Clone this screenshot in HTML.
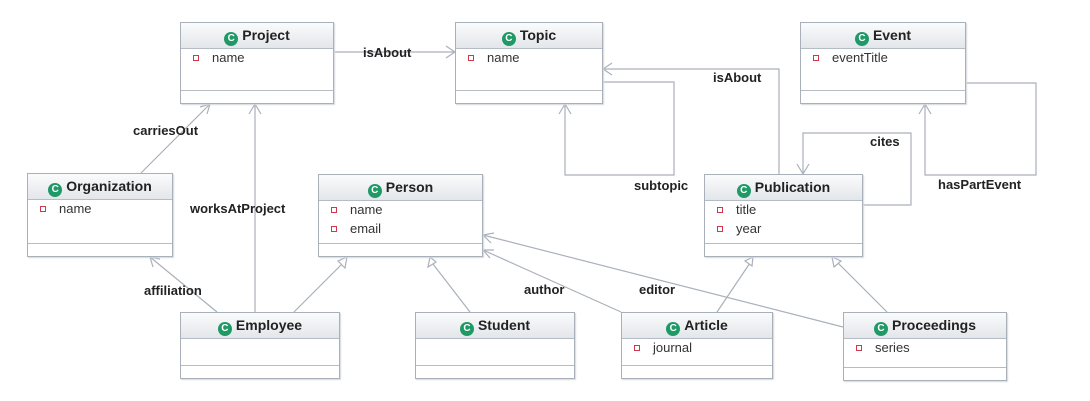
<!DOCTYPE html>
<html><head><meta charset="utf-8"><style>
body{margin:0;width:1090px;height:401px;background:#fff;position:relative;overflow:hidden;font-family:"Liberation Sans","DejaVu Sans",sans-serif;}
.box{position:absolute;border:1px solid #a9b0ba;background:#fff;box-shadow:1px 1px 1px #d4d8dd;box-sizing:border-box;}
.hd{height:25px;border-bottom:1px solid #b6bcc4;background:linear-gradient(#fafbfc,#e3e6ea);text-align:center;font-weight:bold;font-size:14px;line-height:24px;color:#222;}
.c{display:inline-block;width:14px;height:14px;border-radius:50%;background:#1f9a66;color:#fff;font-size:10px;line-height:14px;text-align:center;vertical-align:-1px;margin-right:4px;font-weight:bold;}
.at{font-size:13px;color:#333;padding-left:31px;position:relative;height:19px;line-height:18px;}
.at:before{content:"";position:absolute;left:12px;top:6px;width:6px;height:6px;box-sizing:border-box;border:1px solid #d0384c;}
.dv{position:absolute;left:0;right:0;border-top:1px solid #b6bcc4;}
.lb{position:absolute;font-weight:bold;font-size:13px;color:#222;white-space:nowrap;}
svg{position:absolute;left:0;top:0;}
</style></head><body>
<svg width="1090" height="401" fill="none" stroke="#aab1bb" stroke-width="1.2">
<path d="M333 52H455M446 46L455 52L446 58"/>
<path d="M141 173L210 104M200 107L210 104L207 114"/>
<path d="M255 313V104M249 114L255 104L261 114"/>
<path d="M217 312L150 257M153 267L150 257L160 259"/>
<path d="M294 312L343 263"/><path d="M347 257L338 261L345 268Z" fill="#fff"/>
<path d="M470 312L433 264"/><path d="M430 257L428 267L436 262Z" fill="#fff"/>
<path d="M717 312L750 263"/><path d="M753 257L745 261L752 266Z" fill="#fff"/>
<path d="M887 312L838 263"/><path d="M832 257L834 267L841 261Z" fill="#fff"/>
<path d="M621 312L483 250M490 258L483 250L494 250"/>
<path d="M843 327L483 235M491 243L483 235L494 233"/>
<path d="M779 174V69H603M612 63L603 69L612 75"/>
<path d="M603 82H674V175H565V104M559 114L565 104L571 114"/>
<path d="M862 205H911V133H803V174M797 164L803 174L809 164"/>
<path d="M966 83H1036V175H925V104M919 114L925 104L931 114"/>
</svg>

<div class="box" style="left:180px;top:22px;width:154px;height:82px"><div class="hd"><span class="c">C</span>Project</div><div class="at">name</div><div class="dv" style="top:67px"></div></div>
<div class="box" style="left:455px;top:22px;width:148px;height:82px"><div class="hd"><span class="c">C</span>Topic</div><div class="at">name</div><div class="dv" style="top:67px"></div></div>
<div class="box" style="left:800px;top:22px;width:166px;height:82px"><div class="hd"><span class="c">C</span>Event</div><div class="at">eventTitle</div><div class="dv" style="top:67px"></div></div>
<div class="box" style="left:27px;top:173px;width:146px;height:84px"><div class="hd"><span class="c">C</span>Organization</div><div class="at">name</div><div class="dv" style="top:69px"></div></div>
<div class="box" style="left:318px;top:174px;width:165px;height:83px"><div class="hd"><span class="c">C</span>Person</div><div class="at">name</div><div class="at">email</div><div class="dv" style="top:68px"></div></div>
<div class="box" style="left:704px;top:174px;width:159px;height:83px"><div class="hd"><span class="c">C</span>Publication</div><div class="at">title</div><div class="at">year</div><div class="dv" style="top:68px"></div></div>
<div class="box" style="left:180px;top:312px;width:160px;height:67px"><div class="hd"><span class="c">C</span>Employee</div><div class="dv" style="top:52px"></div></div>
<div class="box" style="left:415px;top:312px;width:160px;height:67px"><div class="hd"><span class="c">C</span>Student</div><div class="dv" style="top:52px"></div></div>
<div class="box" style="left:621px;top:312px;width:152px;height:67px"><div class="hd"><span class="c">C</span>Article</div><div class="at">journal</div><div class="dv" style="top:52px"></div></div>
<div class="box" style="left:843px;top:312px;width:164px;height:69px"><div class="hd"><span class="c">C</span>Proceedings</div><div class="at">series</div><div class="dv" style="top:54px"></div></div>

<div class="lb" style="left:363px;top:45px">isAbout</div>
<div class="lb" style="left:133px;top:123px">carriesOut</div>
<div class="lb" style="left:190px;top:201px">worksAtProject</div>
<div class="lb" style="left:144px;top:283px">affiliation</div>
<div class="lb" style="left:524px;top:282px">author</div>
<div class="lb" style="left:639px;top:282px">editor</div>
<div class="lb" style="left:713px;top:70px">isAbout</div>
<div class="lb" style="left:634px;top:178px">subtopic</div>
<div class="lb" style="left:870px;top:134px">cites</div>
<div class="lb" style="left:938px;top:177px">hasPartEvent</div>
</body></html>
